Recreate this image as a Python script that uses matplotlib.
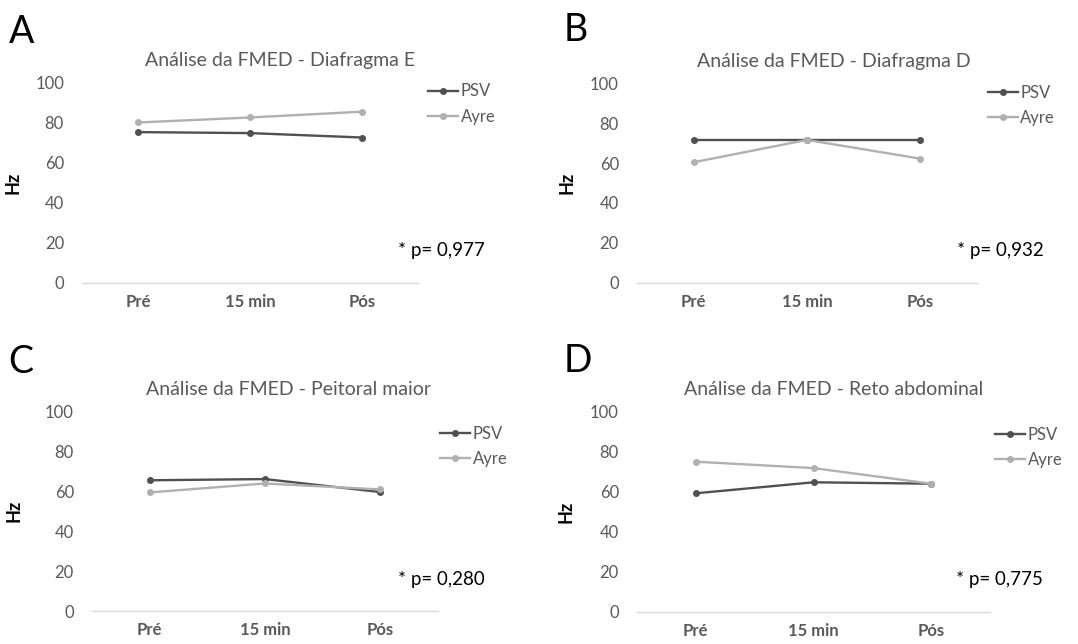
import matplotlib.pyplot as plt

plt.rcParams['font.family'] = ['Lato', 'DejaVu Sans']

categories = ['Pré', '15 min', 'Pós']

titles = ['Análise da FMED - Diafragma E',
          'Análise da FMED - Diafragma D',
          'Análise da FMED - Peitoral maior',
          'Análise da FMED - Reto abdominal']
letters = ['A', 'B', 'C', 'D']
p_values = ['* p= 0,977', '* p= 0,932', '* p= 0,280', '* p= 0,775']

psv_diaf_e = [75.2, 74.7, 72.5]
ayre_diaf_e = [80.0, 82.5, 85.4]
psv_diaf_d = [71.6, 71.6, 71.6]
ayre_diaf_d = [60.4, 71.6, 62.2]
psv_peitoral = [65.6, 66.2, 59.7]
ayre_peitoral = [59.5, 64.0, 61.0]
psv_reto = [59.2, 64.7, 64.0]
ayre_reto = [75.0, 71.8, 64.0]

psv_all = [psv_diaf_e, psv_diaf_d, psv_peitoral, psv_reto]
ayre_all = [ayre_diaf_e, ayre_diaf_d, ayre_peitoral, ayre_reto]

# axes boxes in figure fractions (left, bottom, width, height)
boxes = [(0.0761, 0.561, 0.3117, 0.311),
         (0.5909, 0.561, 0.3154, 0.3097),
         (0.0853, 0.0512, 0.3210, 0.3095),
         (0.5909, 0.0502, 0.3275, 0.3105)]
letter_pos = [(0.008, 0.978), (0.523, 0.981), (0.008, 0.466), (0.523, 0.468)]
legend_pos = [(1.03, 0.892), (1.032, 0.889), (1.006, 0.825), (1.014, 0.823)]
title_x = [0.589, 0.579, 0.569, 0.558]
p_pos = [(1.068, 0.163), (1.068, 0.164), (1.009, 0.16), (1.028, 0.163)]
hz_x = [-0.179, -0.182, -0.2, -0.176]

grey = '#595959'
psv_col = '#505050'
ayre_col = '#b0b0b0'

fig = plt.figure(figsize=(10.78, 6.44), dpi=100)

for i in range(4):
    ax = fig.add_axes(boxes[i])
    x = range(len(categories))
    ax.plot(x, psv_all[i], color=psv_col, lw=1.7, marker='o', ms=4, label='PSV')
    ax.plot(x, ayre_all[i], color=ayre_col, lw=1.7, marker='o', ms=4, label='Ayre')
    ax.set_xlim(-0.5, 2.5)
    ax.set_ylim(0, 100)
    ax.set_yticks([0, 20, 40, 60, 80, 100])
    ax.set_xticks(list(x))
    ax.set_xticklabels(categories, fontweight='bold', color=grey, fontsize=12)
    ax.tick_params(axis='y', colors=grey, labelsize=12, length=0, pad=13)
    ax.tick_params(axis='x', length=0, pad=8)
    for s in ['top', 'right', 'left']:
        ax.spines[s].set_visible(False)
    ax.spines['bottom'].set_color('#d9d9d9')
    ax.spines['bottom'].set_linewidth(1)
    ax.set_title(titles[i], color=grey, fontsize=14, pad=12, x=title_x[i])
    ax.set_ylabel('Hz', fontsize=13, color='black', fontweight='bold')
    ax.yaxis.set_label_coords(hz_x[i], 0.5)
    ax.text(p_pos[i][0], p_pos[i][1], p_values[i], transform=ax.transAxes,
            fontsize=13.5, color='black', ha='center', va='center')
    ax.legend(loc='center left', bbox_to_anchor=legend_pos[i], frameon=False,
              fontsize=12, handlelength=1.8, handletextpad=0.15,
              labelspacing=0.55, borderaxespad=0, borderpad=0, labelcolor=grey)
    fig.text(letter_pos[i][0], letter_pos[i][1], letters[i], fontsize=27,
             va='top', ha='left')

plt.savefig('out.png', dpi=100)
